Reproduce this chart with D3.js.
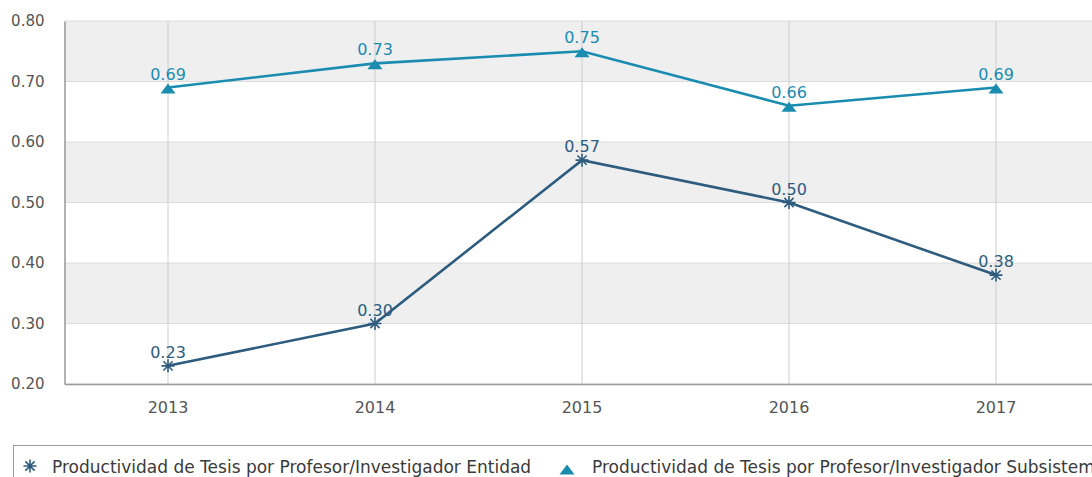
<!DOCTYPE html>
<html>
<head>
<meta charset="utf-8">
<script src="https://cdn.jsdelivr.net/npm/d3@7"></script>
<style>
  html, body { margin: 0; padding: 0; background: #fff; overflow: hidden; }
  svg { display: block; font-family: "DejaVu Sans", sans-serif; }
</style>
</head>
<body>
<svg id="chart" width="1092" height="477"></svg>
<script>
// Years on the horizontal axis
const years = ["2013", "2014", "2015", "2016", "2017"];
// Thesis productivity per professor/researcher
const entidad = [0.23, 0.30, 0.57, 0.50, 0.38];
const subsistema = [0.69, 0.73, 0.75, 0.66, 0.69];
// Vertical axis ticks
const yTicks = [0.20, 0.30, 0.40, 0.50, 0.60, 0.70, 0.80];
const seriesNames = [
  "Productividad de Tesis por Profesor/Investigador Entidad",
  "Productividad de Tesis por Profesor/Investigador Subsistema"
];

const svg = d3.select("#chart");
const m = { left: 64.5, top: 21, bottom: 384 };
const plotRight = 1099.5;

const x = d3.scaleBand().domain(years).range([m.left, plotRight]);
const y = d3.scaleLinear().domain([0.2, 0.8]).range([m.bottom, m.top]);
const cx = d => x(d) + x.bandwidth() / 2;

const colEnt = "#2d5c7e";
const colSub = "#1a8cb0";

// eight-armed asterisk marker path
function starPath(r) {
  const p = d3.path();
  for (let k = 0; k < 4; k++) {
    const a = k * Math.PI / 4;
    p.moveTo(r * Math.cos(a), r * Math.sin(a));
    p.lineTo(-r * Math.cos(a), -r * Math.sin(a));
  }
  return p.toString();
}
// flat triangle marker path
function triPath(w, h) {
  const p = d3.path();
  p.moveTo(0, -h * 0.55);
  p.lineTo(w / 2, h * 0.45);
  p.lineTo(-w / 2, h * 0.45);
  p.closePath();
  return p.toString();
}

// alternating bands
const bands = [[0.7, 0.8], [0.5, 0.6], [0.3, 0.4]];
svg.append("g").selectAll("rect").data(bands).join("rect")
  .attr("x", m.left).attr("width", plotRight - m.left)
  .attr("y", d => y(d[1])).attr("height", d => y(d[0]) - y(d[1]))
  .attr("fill", "#efeff0");

// horizontal grid
svg.append("g").selectAll("line").data(yTicks).join("line")
  .attr("x1", m.left).attr("x2", plotRight)
  .attr("y1", d => y(d)).attr("y2", d => y(d))
  .attr("stroke", "#dcdcdc").attr("stroke-width", 1);

// vertical grid
svg.append("g").selectAll("line").data(years).join("line")
  .attr("x1", cx).attr("x2", cx)
  .attr("y1", m.top).attr("y2", m.bottom)
  .attr("stroke", "#cdcdcd").attr("stroke-width", 1);

// axes
const yAxis = svg.append("g").attr("transform", `translate(${m.left},0)`)
  .call(d3.axisLeft(y).tickValues(yTicks).tickFormat(d3.format(".2f")).tickSize(0).tickPadding(20));
yAxis.select(".domain").attr("stroke", "#999").attr("stroke-width", 1.5);
yAxis.selectAll("text").attr("fill", "#555").attr("font-size", 15).attr("font-family", "DejaVu Sans, sans-serif");

const xAxis = svg.append("g").attr("transform", `translate(0,${m.bottom})`)
  .call(d3.axisBottom(x).tickSize(0).tickPadding(18));
xAxis.select(".domain").attr("stroke", "#999").attr("stroke-width", 1.5);
xAxis.selectAll("text").attr("fill", "#555").attr("font-size", 16).attr("font-family", "DejaVu Sans, sans-serif");

// lines
const line = d3.line().x((d, i) => cx(years[i])).y(d => y(d));
svg.append("path").datum(entidad).attr("d", line)
  .attr("fill", "none").attr("stroke", colEnt).attr("stroke-width", 2.6);
svg.append("path").datum(subsistema).attr("d", line)
  .attr("fill", "none").attr("stroke", colSub).attr("stroke-width", 2.6);

// markers
svg.append("g").selectAll("path").data(entidad).join("path")
  .attr("transform", (d, i) => `translate(${cx(years[i])},${y(d)})`)
  .attr("d", starPath(6.5)).attr("stroke", colEnt).attr("stroke-width", 1.6).attr("fill", "none");
svg.append("g").selectAll("path").data(subsistema).join("path")
  .attr("transform", (d, i) => `translate(${cx(years[i])},${y(d) + 1.5})`)
  .attr("d", triPath(15, 10)).attr("fill", colSub);

// value labels
const fmt = d3.format(".2f");
svg.append("g").selectAll("text").data(entidad).join("text")
  .attr("x", (d, i) => cx(years[i])).attr("y", d => y(d) - 8)
  .attr("text-anchor", "middle").attr("font-size", 16).attr("fill", colEnt)
  .text(fmt);
svg.append("g").selectAll("text").data(subsistema).join("text")
  .attr("x", (d, i) => cx(years[i])).attr("y", d => y(d) - 8)
  .attr("text-anchor", "middle").attr("font-size", 16).attr("fill", colSub)
  .text(fmt);

// legend (the second entry runs past the right edge of the frame)
const lg = svg.append("g");
lg.append("rect").attr("x", 13.5).attr("y", 445.5).attr("width", 1100).attr("height", 60)
  .attr("fill", "#fff").attr("stroke", "#999").attr("stroke-width", 1);
lg.append("path").attr("transform", "translate(30,466)")
  .attr("d", starPath(6.5))
  .attr("stroke", colEnt).attr("stroke-width", 1.6).attr("fill", "none");
lg.append("text").attr("x", 52).attr("y", 473).attr("font-size", 17).attr("fill", "#3a3a3a")
  .text(seriesNames[0]);
lg.append("path").attr("transform", "translate(567,470)")
  .attr("d", triPath(15, 10))
  .attr("fill", colSub);
lg.append("text").attr("x", 592).attr("y", 473).attr("font-size", 17).attr("fill", "#3a3a3a")
  .text(seriesNames[1]);
</script>
</body>
</html>
